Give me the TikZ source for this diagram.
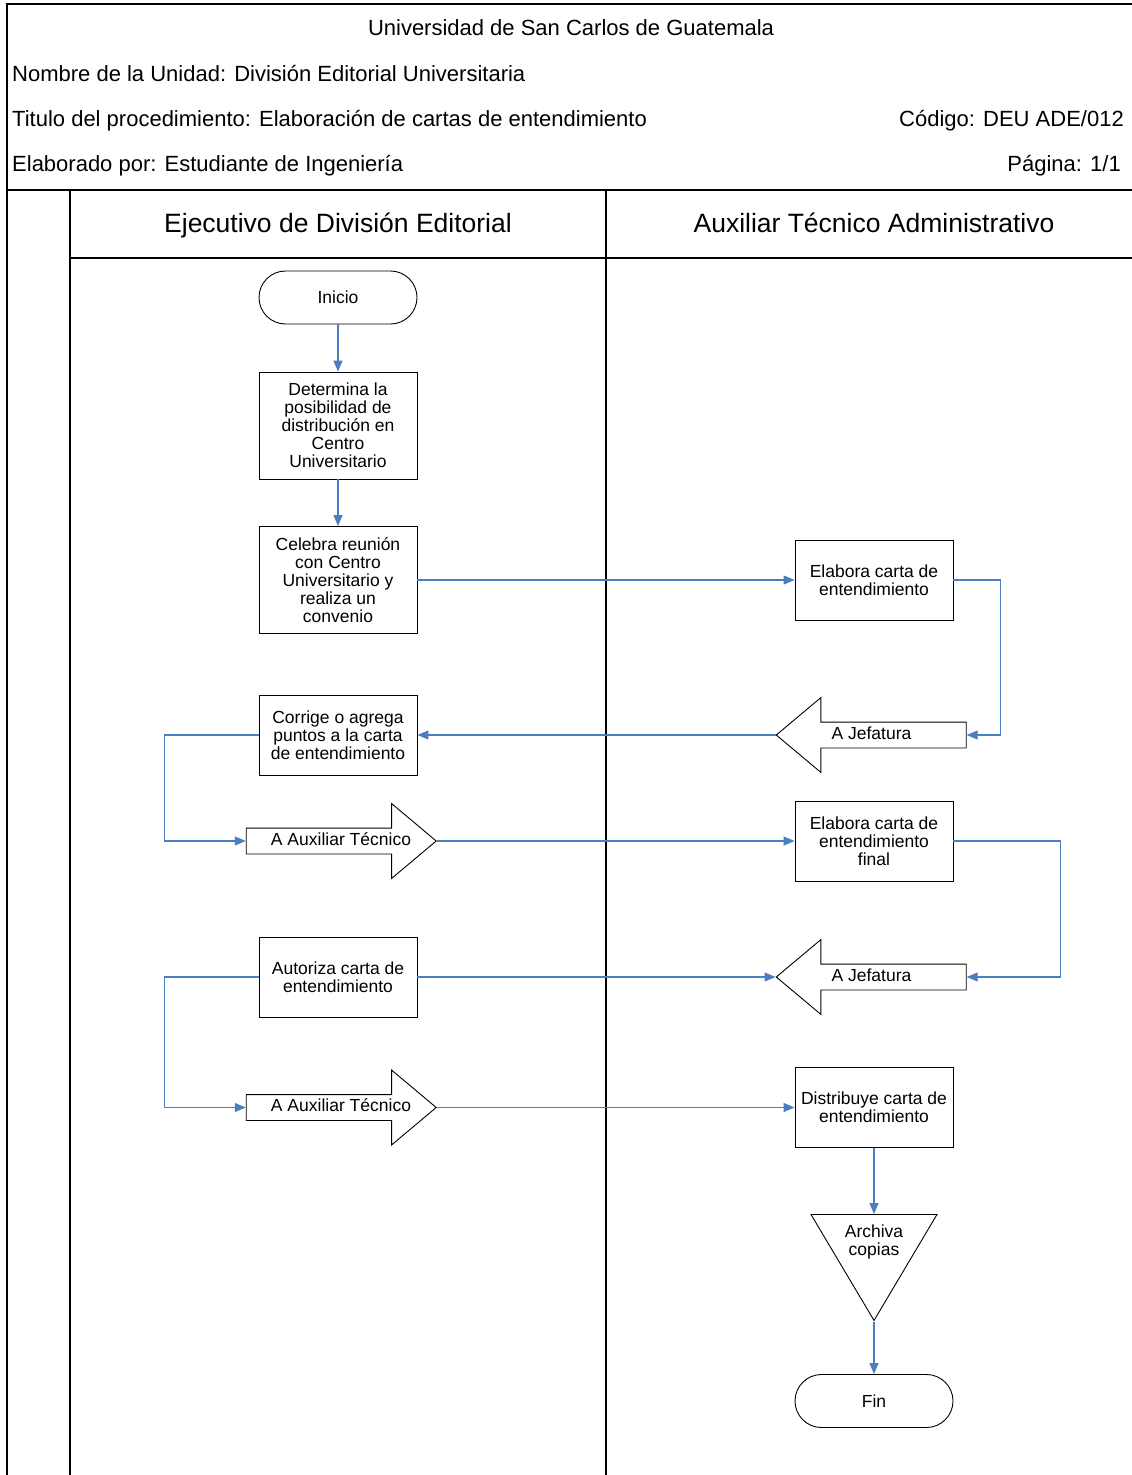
\documentclass[tikz,border=0pt]{standalone}
\usepackage{fontspec}
\setmainfont{Liberation Sans}
\usetikzlibrary{arrows.meta,shapes.arrows,shapes.geometric}
\definecolor{flowblue}{RGB}{74,126,193}
\begin{document}
\begin{tikzpicture}[x=1pt,y=-1pt,
  frame/.style={line width=2pt,black},
  thinframe/.style={line width=1.2pt,black},
  head/.style={font=\fontsize{22}{24}\selectfont,inner sep=0pt,anchor=base west},
  lanetitle/.style={font=\fontsize{26.5}{28}\selectfont,inner sep=0pt,anchor=base},
  box/.style={draw,line width=0.9pt,minimum width=158pt,minimum height=80pt,align=center,
    font=\fontsize{17.5}{18}\selectfont,inner sep=2pt},
  term/.style={draw,line width=0.9pt,minimum width=158pt,minimum height=53pt,rounded corners=26.5pt,
    font=\fontsize{17.5}{18}\selectfont},
  bigarrow/.style={draw,line width=0.9pt,single arrow,single arrow head extend=24.5pt,
    single arrow tip angle=80,minimum height=190pt,text height=12pt,text depth=4pt,
    inner ysep=4.5pt,inner xsep=3pt,font=\fontsize{17.5}{18}\selectfont},
  flow/.style={flowblue,line width=1.1pt,-{Triangle[length=11pt,width=9pt]}},
  link/.style={flowblue,line width=1.1pt}
]
\useasboundingbox (0,0) rectangle (1132,1475);

% outer frame and header
\draw[frame] (7,1476) -- (7,4) -- (1134,4);
\draw[frame,line width=2.5pt] (7,190) -- (1134,190);
\node[head,anchor=base] (uni) at (571,35) {Universidad de San Carlos de Guatemala};
\node[head] (unidad) at (12,81) {Nombre de la Unidad: División Editorial Universitaria};
\node[head] (titulo) at (12,126) {Titulo del procedimiento: Elaboración de cartas de entendimiento};
\node[head,anchor=base east] (codigo) at (1124,126) {Código: DEU ADE/012};
\node[head] (elab) at (12,171) {Elaborado por: Estudiante de Ingeniería};
\node[head,anchor=base east] (pagina) at (1121,171) {Página: 1/1};

% swimlanes
\draw[thinframe] (70,190) -- (70,1476);
\draw[frame] (606,190) -- (606,1476);
\draw[thinframe] (70,258) -- (1134,258);
\node[lanetitle] (lane1) at (338,232) {Ejecutivo de División Editorial};
\node[lanetitle] (lane2) at (874,232) {Auxiliar Técnico Administrativo};

% left lane
\node[term] (inicio) at (338,297.5) {Inicio};
\node[box,minimum height=107pt] (determina) at (338,425.5) {Determina la\\posibilidad de\\distribución en\\Centro\\Universitario};
\node[box,minimum height=107pt] (celebra) at (338,580) {Celebra reunión\\con Centro\\Universitario y\\realiza un\\convenio};
\node[box] (corrige) at (338,735) {Corrige o agrega\\puntos a la carta\\de entendimiento};
\node[bigarrow] (aux1) at (333.5,841) {\hspace*{15pt}A Auxiliar Técnico};
\node[box] (autoriza) at (338,977) {Autoriza carta de\\entendimiento};
\node[bigarrow] (aux2) at (333.5,1107.5) {\hspace*{15pt}A Auxiliar Técnico};

% right lane
\node[box] (carta) at (874,580) {Elabora carta de\\entendimiento};
\node[bigarrow,shape border rotate=180] (jef1) at (879,735) {A Jefatura\hspace*{15pt}};
\node[box] (final) at (874,841) {Elabora carta de\\entendimiento\\final};
\node[bigarrow,shape border rotate=180] (jef2) at (879,977) {A Jefatura\hspace*{15pt}};
\node[box] (distribuye) at (874,1107.5) {Distribuye carta de\\entendimiento};
\node[draw,line width=0.9pt,isosceles triangle,isosceles triangle stretches,shape border rotate=270,
  minimum width=126pt,minimum height=106pt,inner sep=0pt,anchor=lower side] (archivatri) at (874,1214) {};
\node[align=center,font=\fontsize{17.5}{18}\selectfont,inner sep=0pt] (archiva) at (874,1242) {Archiva\\copias};
\node[term] (fin) at (874,1401) {Fin};

% connectors
\draw[flow] (inicio) -- (determina);
\draw[flow] (determina) -- (celebra);
\draw[flow] (celebra.east) -- (carta.west);
\draw[flow] (carta.east) -- ++(47,0) |- (jef1.tail);
\draw[flow] (jef1.tip) -- (corrige.east);
\draw[flow] (corrige.west) -- ++(-94,0) |- (aux1.tail);
\draw[flow] (aux1.tip) -- (final.west);
\draw[flow] (final.east) -- ++(107,0) |- (jef2.tail);
\draw[flow] (autoriza.east) -- (jef2.tip);
\draw[flow] (autoriza.west) -- ++(-94,0) |- (aux2.tail);
\draw[flow] (aux2.tip) -- (distribuye.west);
\draw[flow] (distribuye.south) -- (archivatri.lower side);
\draw[flow] (archivatri.apex) -- (fin.north);
\end{tikzpicture}
\end{document}
